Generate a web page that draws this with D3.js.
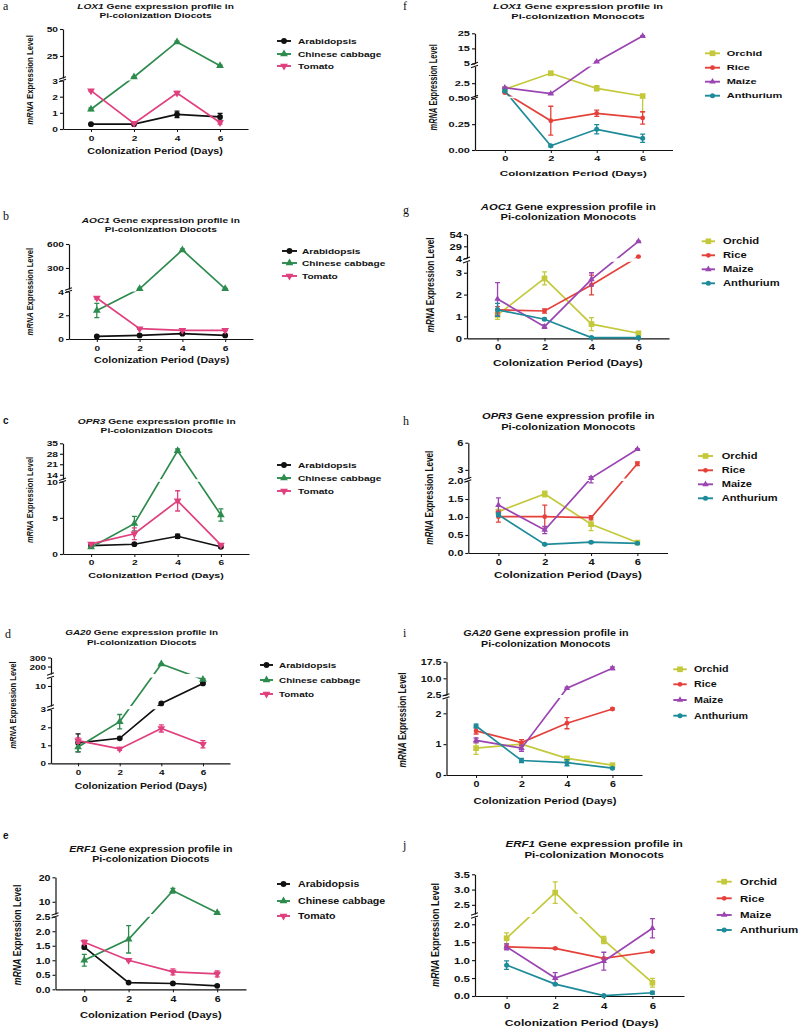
<!DOCTYPE html>
<html><head><meta charset="utf-8">
<script src="https://cdn.jsdelivr.net/npm/d3@7"></script>
<style>
body{margin:0;background:#fff}
text{font-family:"Liberation Sans",Arial,sans-serif;font-weight:bold;fill:#111}
text.letter{font-family:"Liberation Serif","Times New Roman",serif;font-weight:normal}
text.letter.sans{font-family:"Liberation Sans",Arial,sans-serif;font-weight:bold}
</style>
</head><body><svg id="c" width="800" height="1033"></svg>
<script>
// ---------------- DATA ----------------
const days = [0, 2, 4, 6];
const dicotSpecies = ["Arabidopsis", "Chinese cabbage", "Tomato"];
const monocotSpecies = ["Orchid", "Rice", "Maize", "Anthurium"];

// LOX1 dicots (a)
const lox1DicotMean = [[0.3,0.3,0.9,0.75],[1.22,5.5,38,16],[2.37,0.35,2.23,0.4]];
const lox1DicotErr  = [[0.03,0.03,0.2,0.22],[0.08,0.3,0.8,0.6],[0.06,0.04,0.1,0.1]];
// AOC1 dicots (b)
const aoc1DicotMean = [[0.22,0.3,0.45,0.3],[2.4,40,525,40],[3.45,0.87,0.73,0.73]];
const aoc1DicotErr  = [[0.03,0.03,0.05,0.03],[0.6,3,15,3],[0.1,0.05,0.05,0.05]];
// OPR3 dicots (c)
const opr3DicotMean = [[1.15,1.35,2.45,1.0],[0.95,4.2,30,5.4],[1.4,2.8,7.35,1.25]];
const opr3DicotErr  = [[0.1,0.1,0.3,0.1],[0.1,1.0,1.2,0.85],[0.1,0.8,1.4,0.15]];
// GA20 dicots (d)
const ga20DicotMean = [[1.14,1.39,3.9,10.9],[0.9,2.31,228,12.3],[1.26,0.8,1.94,1.06]];
const ga20DicotErr  = [[0.5,0.05,0.1,0.3],[0.25,0.4,5,0.3],[0.15,0.08,0.2,0.2]];
// ERF1 dicots (e)
const erf1DicotMean = [[1.45,0.23,0.2,0.12],[1.0,1.72,14.5,5.5],[1.62,1.0,0.6,0.53]];
const erf1DicotErr  = [[0.05,0.02,0.02,0.02],[0.2,0.47,1.0,0.4],[0.07,0.03,0.1,0.1]];
// LOX1 monocots (f)
const lox1MonoMean = [[1.58,3.98,1.73,0.57],[1.07,0.283,0.355,0.31],[1.82,0.92,6.2,23.2],[1.32,0.04,0.2,0.113]];
const lox1MonoErr  = [[0.1,0.3,0.4,0.2],[0.05,0.14,0.03,0.06],[0.1,0.1,0.2,0.3],[0.05,0.01,0.045,0.04]];
// AOC1 monocots (g)
const aoc1MonoMean = [[1.07,2.74,0.65,0.23],[1.3,1.25,2.44,7.5],[1.8,0.53,2.7,39.4],[1.3,0.87,0.03,0.03]];
const aoc1MonoErr  = [[0.2,0.3,0.3,0.05],[0.15,0.1,0.45,0.5],[0.75,0.08,0.3,0.5],[0.3,0.05,0.02,0.02]];
// OPR3 monocots (h)
const opr3MonoMean = [[1.15,1.64,0.8,0.29],[1.01,1.01,0.98,3.67],[1.33,0.64,2.1,5.28],[1.06,0.24,0.3,0.27]];
const opr3MonoErr  = [[0.05,0.08,0.18,0.02],[0.15,0.32,0.06,0.2],[0.2,0.1,0.15,0.05],[0.05,0.02,0.02,0.02]];
// GA20 monocots (i)
const ga20MonoMean = [[0.87,1.0,0.54,0.32],[1.43,1.05,1.68,2.14],[1.12,0.87,5.5,14.5],[1.59,0.47,0.4,0.22]];
const ga20MonoErr  = [[0.2,0.05,0.05,0.03],[0.1,0.1,0.18,0.03],[0.08,0.1,0.5,0.6],[0.06,0.07,0.1,0.02]];
// ERF1 monocots (j)
const erf1MonoMean = [[1.61,2.9,1.56,0.37],[1.37,1.33,1.05,1.24],[1.37,0.5,0.97,1.89],[0.86,0.33,0.01,0.09]];
const erf1MonoErr  = [[0.15,0.35,0.1,0.12],[0.02,0.02,0.02,0.02],[0.08,0.15,0.25,0.27],[0.12,0.02,0.01,0.04]];

// broken y-axis segments (value ranges) and tick labels
const segA = [[0,3],[4.6,50]],        ticksA = [[0,1,2,3],[25,50]],            fmtA = ["d","d"];
const segB = [[0,4],[37,600]],        ticksB = [[0,2,4],[300,600]],            fmtB = ["d","d"];
const segC = [[0,10],[11,35]],        ticksC = [[0,5,10],[14,21,28,35]],       fmtC = ["d","d"];
const segD = [[0,3],[3,13],[117,300]],ticksD = [[0,1,2,3],[10],[200,300]],     fmtD = ["d","d","d"];
const segE = [[0,2.5],[5,20]],        ticksE = [[0,0.5,1,1.5,2,2.5],[10,20]],  fmtE = [".1f","d"];
const segF = [[0,0.5],[0.5,5],[5,25]],ticksF = [[0,0.25,0.5],[2.5],[5,15,25]], fmtF = [".2f",".1f","d"];
const segG = [[0,3.5],[4,54]],        ticksG = [[0,1,2,3],[4,29,54]],          fmtG = ["d","d"];
const segH = [[0,2],[2.05,6]],        ticksH = [[0,0.5,1,1.5,2],[3,6]],        fmtH = [".1f","d"];
const segI = [[0,2.5],[2.5,17.5]],    ticksI = [[0,1,2],[2.5,10,17.5]],        fmtI = ["d",".1f"];
const segJ = [[0,2.2],[2.2,3.5]],     ticksJ = [[0,0.5,1,1.5,2],[2.5,3,3.5]],  fmtJ = [".1f",".1f"];

const panels = [
  {id:"a",gene:"LOX1",grp:"Diocots",sp:dicotSpecies,mean:lox1DicotMean,err:lox1DicotErr,seg:segA,ticks:ticksA,fmt:fmtA},
  {id:"b",gene:"AOC1",grp:"Diocots",sp:dicotSpecies,mean:aoc1DicotMean,err:aoc1DicotErr,seg:segB,ticks:ticksB,fmt:fmtB},
  {id:"c",gene:"OPR3",grp:"Diocots",sp:dicotSpecies,mean:opr3DicotMean,err:opr3DicotErr,seg:segC,ticks:ticksC,fmt:fmtC},
  {id:"d",gene:"GA20",grp:"Diocots",sp:dicotSpecies,mean:ga20DicotMean,err:ga20DicotErr,seg:segD,ticks:ticksD,fmt:fmtD},
  {id:"e",gene:"ERF1",grp:"Diocots",sp:dicotSpecies,mean:erf1DicotMean,err:erf1DicotErr,seg:segE,ticks:ticksE,fmt:fmtE},
  {id:"f",gene:"LOX1",grp:"Monocots",sp:monocotSpecies,mean:lox1MonoMean,err:lox1MonoErr,seg:segF,ticks:ticksF,fmt:fmtF},
  {id:"g",gene:"AOC1",grp:"Monocots",sp:monocotSpecies,mean:aoc1MonoMean,err:aoc1MonoErr,seg:segG,ticks:ticksG,fmt:fmtG},
  {id:"h",gene:"OPR3",grp:"Monocots",sp:monocotSpecies,mean:opr3MonoMean,err:opr3MonoErr,seg:segH,ticks:ticksH,fmt:fmtH},
  {id:"i",gene:"GA20",grp:"Monocots",sp:monocotSpecies,mean:ga20MonoMean,err:ga20MonoErr,seg:segI,ticks:ticksI,fmt:fmtI},
  {id:"j",gene:"ERF1",grp:"Monocots",sp:monocotSpecies,mean:erf1MonoMean,err:erf1MonoErr,seg:segJ,ticks:ticksJ,fmt:fmtJ}
];

// ---------------- STYLE / LAYOUT ----------------
const speciesStyle = {
  "Arabidopsis":{color:"#111111",sym:d3.symbolCircle,size:26},
  "Chinese cabbage":{color:"#2e8b4e",sym:d3.symbolTriangle,size:26},
  "Tomato":{color:"#e0407e",sym:d3.symbolTriangle,size:26,rot:180},
  "Orchid":{color:"#c3c93a",sym:d3.symbolSquare,size:32},
  "Rice":{color:"#e5413b",sym:d3.symbolCircle,size:18},
  "Maize":{color:"#9b45b2",sym:d3.symbolTriangle,size:18},
  "Anthurium":{color:"#1d8b99",sym:d3.symbolCircle,size:20}
};
const layout = {
  a:{left:63,right:248,segPx:[[129,80.5],[78,29]],fs:8,sx:1.27,title:[155.5,6,15.3],letter:[3,6],ylab:[30,80],xlab:[155,151],leg:{x0:277,x1:291,tx:298,ys:[41,54,66]}},
  b:{left:69,right:253,segPx:[[339,291.5],[289,244]],fs:7.8,sx:1.3,title:[160.8,220,229.3],letter:[3,216],ylab:[29.3,291.7],xlab:[161.7,360],leg:{x0:282,x1:297,tx:302,ys:[251,263,276]}},
  c:{left:63,right:249,segPx:[[554,481.7],[479.2,443.3]],fs:7.7,sx:1.32,title:[156.7,421,430.7],letter:[3,420],ylab:[30,500],xlab:[156,575],leg:{x0:277,x1:291,tx:298,ys:[465,478,491]},sans:true},
  d:{left:51,right:230,segPx:[[763.3,709.3],[706,677.4],[674,657.5]],fs:7.8,sx:1.27,title:[141.7,632.3,642.3],letter:[5,634],ylab:[12.7,705],xlab:[140.8,786],leg:{x0:260,x1:273,tx:279,ys:[665,680,694]}},
  e:{left:55.5,right:246,segPx:[[989.3,916.7],[914,877.3]],fs:9,sx:1.18,title:[150.8,849,859.3],letter:[3,835],ylab:[17.3,935],xlab:[150.8,1014.3],leg:{x0:277,x1:290,tx:298,ys:[884,901,916]},sans:true},
  f:{left:475,right:672.5,segPx:[[150,98.3],[96.5,66.5],[63.5,33.3]],fs:7.7,sx:1.43,title:[578,6,16],letter:[403,6],ylab:[433.3,87.3],xlab:[573.3,173.3],leg:{x0:705,x1:720,tx:726.7,ys:[53.3,67.7,81.7,95.7]}},
  g:{left:467,right:669,segPx:[[338.3,261.8],[258.3,234.3]],fs:8.5,sx:1.32,title:[568.3,207.3,217.3],letter:[403,210],ylab:[430,285],xlab:[567.8,362.7],leg:{x0:701.7,x1:715,tx:723,ys:[241.3,255.3,269.3,283.3]}},
  h:{left:468.3,right:667.5,segPx:[[553,481],[478.5,442.7]],fs:8.4,sx:1.32,title:[568.3,416,426.7],letter:[403,421],ylab:[429.3,497.7],xlab:[568,575],leg:{x0:698,x1:713,tx:721.7,ys:[456,470.3,484.3,498.3]}},
  i:{left:446.5,right:642,segPx:[[775,697.9],[694.9,661.7]],fs:8.5,sx:1.26,title:[545.8,633.3,644],letter:[403,633],ylab:[402,720],xlab:[545,801],leg:{x0:673.3,x1:686.7,tx:694,ys:[669.3,684.3,700,715.7]}},
  j:{left:475,right:684,segPx:[[996,917.1],[914,874.3]],fs:9.3,sx:1.24,title:[594.2,844,855],letter:[403,845],ylab:[435,935],xlab:[581.7,1022.7],leg:{x0:716.7,x1:731.7,tx:740,ys:[881.7,898.3,915,930]}}
};

const svg = d3.select("#c");
const defs = svg.append("defs");

function stxt(g, x, y, fs, sx, anchor, rot) {
  return g.append("text")
    .attr("transform", `translate(${x},${y}) scale(${sx},1)` + (rot ? " rotate(-90)" : ""))
    .attr("font-size", fs).attr("text-anchor", anchor).attr("dy", "0.35em");
}

panels.forEach(p => {
  const L = layout[p.id];
  const g = svg.append("g");
  const x = d3.scaleLinear().domain([-1.3, 7.3]).range([L.left, L.right]);
  const segScales = p.seg.map((d, k) => d3.scaleLinear().domain(d).range(L.segPx[k]));
  const gapScales = p.seg.slice(0, -1).map((d, k) =>
    d3.scaleLinear().domain([d[1], p.seg[k + 1][0]]).range([L.segPx[k][1], L.segPx[k + 1][0]]));
  const y = v => {
    for (let k = 0; k < p.seg.length; k++)
      if (v >= p.seg[k][0] - 1e-9 && v <= p.seg[k][1] + 1e-9) return segScales[k](v);
    if (v < p.seg[0][0]) return segScales[0](v);
    for (let k = 0; k < p.seg.length - 1; k++)
      if (v > p.seg[k][1] && v < p.seg[k + 1][0]) return gapScales[k](v);
    return segScales[segScales.length - 1](v);
  };
  const bottom = L.segPx[0][0];
  const nS = p.seg.length;

  // clip paths per segment
  L.segPx.forEach((r, k) => {
    const top = k === nS - 1 ? r[1] - 20 : r[1];
    const bot = k === 0 ? r[0] + 20 : r[0];
    defs.append("clipPath").attr("id", `clip-${p.id}-${k}`)
      .append("rect").attr("x", L.left).attr("width", L.right - L.left + 10)
      .attr("y", top).attr("height", bot - top);
  });

  // panel letter
  g.append("text").attr("class", "letter" + (L.sans ? " sans" : "")).attr("x", L.letter[0]).attr("y", L.letter[1])
    .attr("dy", "0.35em").attr("font-size", L.sans ? 10 : 12).text(p.id);

  // title
  const t1 = stxt(g, L.title[0], L.title[1], L.fs, L.sx, "middle");
  t1.append("tspan").attr("font-style", "italic").text(p.gene);
  t1.append("tspan").text(" Gene expression profile in");
  stxt(g, L.title[0], L.title[2], L.fs, L.sx, "middle").text("Pi-colonization " + p.grp);

  // y label
  const yl = stxt(g, L.ylab[0], L.ylab[1], L.fs * 0.97, L.sx, "middle", true);
  yl.append("tspan").attr("font-style", "italic").text("mRNA");
  yl.append("tspan").text(" Expression Level");

  // x label
  stxt(g, L.xlab[0], L.xlab[1], L.fs * 1.05, L.sx, "middle").text("Colonization Period (Days)");

  // y axes per segment
  p.seg.forEach((d, k) => {
    const ax = d3.axisLeft(segScales[k]).tickValues(p.ticks[k]).tickFormat(d3.format(p.fmt[k]))
      .tickSize(3).tickSizeOuter(0).tickPadding(2);
    const ag = g.append("g").attr("transform", `translate(${L.left},0)`).attr("color", "#111").call(ax);
    ag.select(".domain").attr("stroke-width", 1.2);
    ag.selectAll(".tick line").attr("stroke-width", 1.1);
    ag.selectAll("text").attr("font-size", L.fs).attr("x", -5 / L.sx)
      .attr("transform", `scale(${L.sx},1)`);
  });
  // break marks
  for (let k = 0; k < nS - 1; k++) {
    const yA = L.segPx[k][1], yB = L.segPx[k + 1][0];
    [yA, yB].forEach(yy => {
      g.append("line").attr("x1", L.left - 4).attr("x2", L.left + 3)
        .attr("y1", yy + 1.2).attr("y2", yy - 1.2).attr("stroke", "#111").attr("stroke-width", 1.1);
    });
  }

  // x axis
  const xa = d3.axisBottom(x).tickValues(days).tickFormat(d3.format("d")).tickSize(3).tickSizeOuter(0).tickPadding(3);
  const xg = g.append("g").attr("transform", `translate(0,${bottom})`).attr("color", "#111").call(xa);
  xg.select(".domain").attr("stroke-width", 1.2);
  xg.selectAll("text").attr("font-size", L.fs).attr("transform", `scale(${L.sx},1)`);

  // series
  const line = d3.line();
  p.sp.forEach((s, si) => {
    const st = speciesStyle[s];
    const pts = days.map((dd, i) => [x(dd), y(p.mean[si][i])]);
    for (let k = 0; k < nS; k++) {
      g.append("path").attr("d", line(pts)).attr("fill", "none").attr("stroke", st.color)
        .attr("stroke-width", 1.7).attr("clip-path", `url(#clip-${p.id}-${k})`);
    }
    days.forEach((dd, i) => {
      const m = p.mean[si][i], e = p.err[si][i];
      const y1 = y(Math.max(0, m - e)), y2 = y(m + e), xx = x(dd);
      g.append("path").attr("d", `M${xx},${y1}V${y2}M${xx - 2.5},${y1}H${xx + 2.5}M${xx - 2.5},${y2}H${xx + 2.5}`)
        .attr("stroke", st.color).attr("stroke-width", 1.3).attr("fill", "none");
    });
    g.selectAll(null).data(days).enter().append("path")
      .attr("d", d3.symbol().type(st.sym).size(st.size))
      .attr("transform", (dd, i) => `translate(${x(dd)},${y(p.mean[si][i])})` + (st.rot ? ` rotate(${st.rot})` : ""))
      .attr("fill", st.color);

    // legend
    const ly = L.leg.ys[si];
    g.append("line").attr("x1", L.leg.x0).attr("x2", L.leg.x1).attr("y1", ly).attr("y2", ly)
      .attr("stroke", st.color).attr("stroke-width", 1.9);
    g.append("path").attr("d", d3.symbol().type(st.sym).size(st.size))
      .attr("transform", `translate(${(L.leg.x0 + L.leg.x1) / 2},${ly})` + (st.rot ? ` rotate(${st.rot})` : ""))
      .attr("fill", st.color);
    stxt(g, L.leg.tx, ly, L.fs, L.sx, "start").text(s);
  });
});
</script>
</body></html>
